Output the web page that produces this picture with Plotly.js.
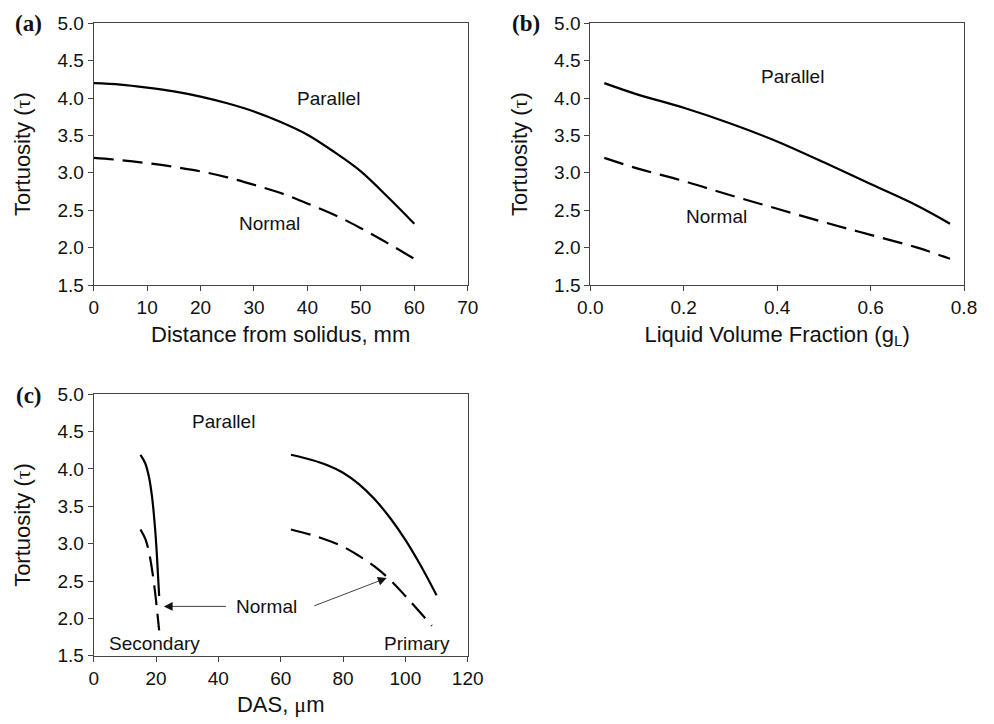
<!DOCTYPE html>
<html>
<head>
<meta charset="utf-8">
<script src="https://cdn.plot.ly/plotly-3.0.1.min.js"></script>
<style>html,body{margin:0;padding:0;background:#fff;}#chart{width:994px;height:724px;}</style>
</head>
<body>
<div id="chart"></div>
<script>
// Panel (a): distance from solidus (mm)
const distA = [0, 5, 10, 15, 20, 25, 30, 35, 40, 45, 50, 55, 60];
const parA  = [4.20, 4.18, 4.14, 4.09, 4.02, 3.93, 3.82, 3.68, 3.51, 3.28, 3.02, 2.68, 2.32];
const norA  = [3.20, 3.17, 3.13, 3.08, 3.02, 2.94, 2.84, 2.73, 2.59, 2.44, 2.26, 2.06, 1.85];

// Panel (b): liquid volume fraction
const gLB  = [0.03, 0.1, 0.2, 0.3, 0.4, 0.5, 0.6, 0.7, 0.77];
const parB = [4.20, 4.05, 3.87, 3.66, 3.42, 3.14, 2.85, 2.56, 2.32];
const norB = [3.20, 3.06, 2.89, 2.70, 2.52, 2.34, 2.17, 2.00, 1.85];

// Panel (c): DAS (um)
const secParDas = [15.0, 16.5, 17.8, 18.8, 19.6, 20.2, 20.6, 21.0];
const secParTau = [4.19, 4.08, 3.88, 3.60, 3.25, 2.90, 2.60, 2.30];
const secNorDas = [15.0, 16.6, 17.8, 18.8, 19.6, 20.3, 21.0];
const secNorTau = [3.19, 3.06, 2.87, 2.63, 2.38, 2.12, 1.84];
const priParDas = [63.3, 70, 75, 80, 85, 90, 95, 100, 105, 110];
const priParTau = [4.19, 4.12, 4.05, 3.95, 3.80, 3.60, 3.35, 3.05, 2.70, 2.31];
const priNorDas = [63.3, 72, 80, 85, 90, 95, 100, 108.5];
const priNorTau = [3.19, 3.09, 2.96, 2.84, 2.70, 2.52, 2.30, 1.90];

const W = 994, H = 724;
const px = (a, b) => [a / W, b / W];
const py = (top, bot) => [1 - bot / H, 1 - top / H];

const solid = {color: '#000', width: 2.2, shape: 'spline', smoothing: 1};
const dashed = {color: '#000', width: 2.2, dash: '20px,9px', shape: 'spline', smoothing: 1};

const traces = [
  {x: distA, y: parA, xaxis: 'x', yaxis: 'y', mode: 'lines', line: solid, name: 'Parallel'},
  {x: distA, y: norA, xaxis: 'x', yaxis: 'y', mode: 'lines', line: dashed, name: 'Normal'},
  {x: gLB, y: parB, xaxis: 'x2', yaxis: 'y2', mode: 'lines', line: solid, name: 'Parallel'},
  {x: gLB, y: norB, xaxis: 'x2', yaxis: 'y2', mode: 'lines', line: dashed, name: 'Normal'},
  {x: secParDas, y: secParTau, xaxis: 'x3', yaxis: 'y3', mode: 'lines', line: solid, name: 'Secondary parallel'},
  {x: secNorDas, y: secNorTau, xaxis: 'x3', yaxis: 'y3', mode: 'lines', line: dashed, name: 'Secondary normal'},
  {x: priParDas, y: priParTau, xaxis: 'x3', yaxis: 'y3', mode: 'lines', line: solid, name: 'Primary parallel'},
  {x: priNorDas, y: priNorTau, xaxis: 'x3', yaxis: 'y3', mode: 'lines', line: dashed, name: 'Primary normal'}
];

const FONT = 'Liberation Sans, Arial, sans-serif';
const tickFont = {family: FONT, size: 19, color: '#111'};
const titleFont = {family: FONT, size: 22, color: '#111'};
const ytitleFont = {family: FONT, size: 22, color: '#111'};

function xax(domain, range, dtick, fmt, title, anchor) {
  return {domain: domain, range: range, dtick: dtick, tick0: 0, tickformat: fmt, anchor: anchor,
    showline: true, mirror: true, linecolor: '#444', linewidth: 1, ticks: 'outside', ticklen: 5,
    tickcolor: '#444', showgrid: false, zeroline: false, tickfont: tickFont,
    title: {text: title, font: titleFont, standoff: 9}};
}
function yax(domain, anchor) {
  return {domain: domain, range: [1.5, 5.0], dtick: 0.5, tick0: 1.5, tickformat: '.1f', anchor: anchor,
    showline: true, mirror: true, linecolor: '#444', linewidth: 1, ticks: 'outside', ticklen: 5,
    tickcolor: '#444', showgrid: false, zeroline: false, tickfont: tickFont,
    title: {text: 'Tortuosity (<span style="font-family:Liberation Serif">τ</span>)', font: ytitleFont, standoff: 20}};
}

const annFont = {family: FONT, size: 19, color: '#111'};
const labFont = {family: 'Liberation Serif, Times New Roman, serif', size: 23, color: '#111'};

const annotations = [
  {xref: 'x', yref: 'y', x: 44, y: 4.0, text: 'Parallel', showarrow: false, font: annFont},
  {xref: 'x', yref: 'y', x: 32.9, y: 2.32, text: 'Normal', showarrow: false, font: annFont},
  {xref: 'x2', yref: 'y2', x: 0.432, y: 4.29, text: 'Parallel', showarrow: false, font: annFont},
  {xref: 'x2', yref: 'y2', x: 0.27, y: 2.41, text: 'Normal', showarrow: false, font: annFont},
  {xref: 'x3', yref: 'y3', x: 41.6, y: 4.63, text: 'Parallel', showarrow: false, font: annFont},
  {xref: 'x3', yref: 'y3', x: 55.5, y: 2.16, text: 'Normal', showarrow: false, font: annFont},
  {xref: 'x3', yref: 'y3', x: 19.5, y: 1.67, text: 'Secondary', showarrow: false, font: annFont},
  {xref: 'x3', yref: 'y3', x: 103.7, y: 1.67, text: 'Primary', showarrow: false, font: annFont},
  {xref: 'x3', yref: 'y3', axref: 'x3', ayref: 'y3', x: 22.5, y: 2.16, ax: 42.9, ay: 2.16, text: '',
   showarrow: true, arrowhead: 2, arrowsize: 2.2, arrowwidth: 0.8, arrowcolor: '#111', standoff: 0, startstandoff: 0},
  {xref: 'x3', yref: 'y3', axref: 'x3', ayref: 'y3', x: 94.0, y: 2.54, ax: 70.3, ay: 2.16, text: '',
   showarrow: true, arrowhead: 2, arrowsize: 2.2, arrowwidth: 0.8, arrowcolor: '#111', standoff: 0, startstandoff: 0},
  {xref: 'paper', yref: 'paper', xanchor: 'center', yanchor: 'middle', x: 28.5 / W, y: 1 - 23 / H, text: '<b>(a)</b>', showarrow: false, font: labFont},
  {xref: 'paper', yref: 'paper', xanchor: 'center', yanchor: 'middle', x: 526 / W, y: 1 - 23 / H, text: '<b>(b)</b>', showarrow: false, font: labFont},
  {xref: 'paper', yref: 'paper', xanchor: 'center', yanchor: 'middle', x: 28.5 / W, y: 1 - 395 / H, text: '<b>(c)</b>', showarrow: false, font: labFont}
];

const layout = {
  width: W, height: H,
  margin: {l: 0, r: 0, t: 0, b: 0},
  paper_bgcolor: '#fff', plot_bgcolor: '#fff',
  showlegend: false,
  xaxis: xax(px(93.7, 467.7), [0, 70], 10, 'd', 'Distance from solidus, mm', 'y'),
  yaxis: yax(py(23.3, 285), 'x'),
  xaxis2: xax(px(590.3, 964), [0, 0.8], 0.2, '.1f', 'Liquid Volume Fraction (g<sub>L</sub>)', 'y2'),
  yaxis2: yax(py(23.3, 285), 'x2'),
  xaxis3: xax(px(93.7, 467.7), [0, 120], 20, 'd', 'DAS, <span style="font-family:Liberation Serif">μ</span>m', 'y3'),
  yaxis3: yax(py(394.3, 655.7), 'x3'),
  annotations: annotations
};

Plotly.newPlot('chart', traces, layout, {displayModeBar: false, staticPlot: true});
</script>
</body>
</html>
